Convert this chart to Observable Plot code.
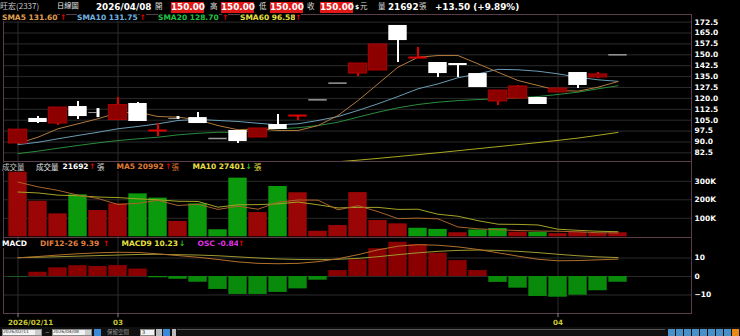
<!DOCTYPE html>
<html><head><meta charset="utf-8">
<script src="https://cdn.jsdelivr.net/npm/d3@7"></script>
<script src="https://cdn.jsdelivr.net/npm/@observablehq/plot@0.6"></script>
<style>
body{margin:0;background:#000;width:740px;height:336px;overflow:hidden;position:relative;font-family:"DejaVu Sans",sans-serif;}
.a{position:absolute;white-space:nowrap;line-height:1;}
.b{font-weight:bold;}
.cjk{font-family:"Noto Sans CJK TC",sans-serif;}
.box{position:absolute;background:#e01818;color:#fff;font-weight:bold;text-align:center;}
svg{position:absolute;left:0;overflow:visible;}
</style></head><body>
<script>
// ---------- DATA ----------
const open  = [89.0,106.2,102.7,114.4,110.4,105.1,116.5,97.9,106.3,106.8,92.4,97.9,93.1,102.0,108.2,119.0,130.5,137.1,139.2,170.2,148.1,144.7,144.0,137.1,117.9,119.9,120.6,124.1,137.8,134.4,150.0];
const high  = [98.5,107.5,113.7,117.9,113.0,120.6,117.2,102.7,107.5,110.3,92.4,97.9,99.3,108.9,108.2,119.0,130.5,144.0,157.1,170.2,155.0,144.7,144.0,137.1,125.4,128.9,120.6,126.8,137.8,137.8,150.0];
const low   = [89.0,102.7,101.3,105.5,106.8,105.1,104.1,93.8,105.5,102.7,92.4,89.0,93.1,98.6,104.8,119.0,130.5,135.1,139.2,144.7,148.1,134.4,134.4,127.5,115.1,119.9,115.8,124.1,126.8,133.7,150.0];
const close = [98.5,103.4,113.7,107.5,110.3,115.4,104.1,97.9,106.2,102.7,92.4,90.3,99.3,98.6,108.2,119.0,130.5,144.0,157.1,159.8,148.1,137.1,142.6,127.5,125.4,128.2,115.8,126.8,128.9,136.5,150.0];
const prevClose = 89.6;
const sma5  = [89.0,93.3,99.1,102.5,106.0,110.1,110.5,107.5,107.1,105.3,101.3,98.4,99.1,97.9,97.9,101.3,108.2,118.5,130.0,141.5,148.3,149.5,149.5,143.8,138.0,132.3,128.9,125.4,125.0,127.7,131.6];
const sma10 = [88.2,89.8,92.2,94.5,96.7,99.1,100.7,102.5,104.8,105.5,104.8,104.1,102.9,101.8,102.5,104.8,107.5,111.7,116.3,121.3,126.6,130.0,134.2,136.9,140.0,139.7,138.7,136.9,134.6,132.8,131.75];
const sma20 = [82.0,83.7,85.7,87.6,89.4,91.0,92.2,93.3,94.9,96.0,96.7,96.7,98.4,99.1,99.8,101.3,103.6,107.1,110.5,113.5,115.8,117.4,118.5,119.2,119.7,120.4,121.3,122.7,124.3,126.6,128.7];
const sma60 = [null,null,null,null,null,null,null,null,null,null,null,null,null,null,null,null,76.4,77.5,78.7,80.0,81.3,82.6,84.0,85.4,86.8,88.2,89.6,91.1,92.7,94.6,96.58];
const volume = [349,192,124,227,142,178,232,209,83,178,38,317,131,272,238,30,61,239,88,70,46,40,22,37,45,25,24,17,25,18,21.692]; // K
const volMA5  = [296,270,251,225,207,175,181,197,169,176,148,165,149,187,199,198,146,168,136,98,101,97,53,43,38,34,31,30,27,22,20.992];
const volMA10 = [242,237,225,222,215,212,205,200,192,191,160,173,174,178,188,173,156,159,159,148,149,122,111,87,68,67,64,41,35,30,27.401];
const osc   = [-0.3,2.3,4.7,5.8,5.4,5.9,4.0,-0.7,-1.5,-3.1,-7.0,-9.7,-9.7,-8.6,-6.7,-2.0,3.2,9.0,15.0,18.5,17.3,12.6,8.6,3.2,-3.2,-6.3,-10.8,-11.2,-10.1,-7.7,-3.1];
const dif   = [10.1,10.8,11.6,12.3,12.8,13.1,13.0,12.2,11.3,10.4,9.2,7.9,7.1,6.9,7.1,8.0,9.6,11.8,14.4,16.4,17.2,16.9,16.0,14.6,12.8,11.0,9.3,8.5,8.6,9.0,9.39];
const macd9 = [10.2,10.4,10.7,11.0,11.3,11.6,11.9,12.0,11.8,11.6,11.2,10.6,10.0,9.5,9.2,9.1,9.3,9.8,10.7,11.8,12.8,13.6,14.1,14.3,14.1,13.6,12.9,12.0,11.2,10.6,10.23];
const xTicks = [0,5,27];
const xTickLabels = ["2026/02/11","03","04"];
const priceTicks = [82.5,90,97.5,105,112.5,120,127.5,135,142.5,150,157.5,165,172.5];
const volTicks = [100,200,300];
const volTickLabels = ["100K","200K","300K"];
const macdTicks = [-10,0,10];

// ---------- derived tables ----------
const N = close.length;
const idx = d3.range(N);
const candles = idx.map(i => ({i, o: open[i], h: high[i], l: low[i], c: close[i]}));
const upC = candles.filter(d => d.c > d.o);
const dnC = candles.filter(d => d.c < d.o && d.o - d.c >= 0.5);
const dnTiny = candles.filter(d => d.c < d.o && d.o - d.c < 0.5);
const flatRange = candles.filter(d => d.c === d.o && d.h > d.l);
const flatNone = candles.filter(d => d.c === d.o && d.h === d.l);
const vols = idx.map(i => ({i, v: volume[i], up: close[i] >= (i ? close[i-1] : prevClose)}));
const series = (arr) => idx.map(i => ({i, v: arr[i]}));

// ---------- layout / style ----------
const W = 740, ML = 3, MR = 49;
const xDomain = [-0.725, 33.675];
const HW = 0.46;
const RED = "#e00000", DRED = "#8c0000", GRN = "#0b9a0b", FRAME = "#5a3c4a", GRID = "#2c2c2c";
const baseStyle = {background: "transparent", color: "#fff", fontFamily: "DejaVu Sans, sans-serif", fontSize: "7.5px", fontWeight: "bold", overflow: "visible"};
const vgrid = Plot.gridX(xTicks, {stroke: GRID, strokeOpacity: 1});

function place(svg, top) { svg.style.top = top + "px"; document.body.appendChild(svg); }

// price panel
place(Plot.plot({
  width: W, height: 147, marginLeft: ML, marginRight: MR, marginTop: 0, marginBottom: 0,
  style: baseStyle,
  x: {domain: xDomain, axis: null, label: null},
  y: {domain: [76.57, 177.74], axis: null, label: null},
  marks: [
    Plot.gridY(priceTicks, {stroke: GRID, strokeOpacity: 1}),
    vgrid,
    Plot.axisY(priceTicks, {anchor: "right", label: null, tickSize: 0, tickPadding: 3, tickFormat: d => d.toFixed(1), fill: "#fff"}),
    Plot.line(series(sma60), {x: "i", y: "v", stroke: "#a8a820", strokeWidth: 1, clip: true}),
    Plot.line(series(sma20), {x: "i", y: "v", stroke: "#2a8c3c", strokeWidth: 1, clip: true}),
    Plot.line(series(sma10), {x: "i", y: "v", stroke: "#6a9cb4", strokeWidth: 1, clip: true}),
    Plot.line(series(sma5), {x: "i", y: "v", stroke: "#b07a3c", strokeWidth: 1, clip: true}),
    Plot.ruleX(upC, {x: "i", y1: "l", y2: "h", stroke: RED, strokeWidth: 2}),
    Plot.ruleX(dnC, {x: "i", y1: "l", y2: "h", stroke: "#fff", strokeWidth: 2}),
    Plot.ruleY(dnTiny, {y: "c", x1: d => d.i - HW, x2: d => d.i - 0.05, stroke: "#9a9a9a", strokeWidth: 1}),
    Plot.ruleX(dnTiny, {x: "i", y1: "l", y2: "h", stroke: "#fff", strokeWidth: 3}),
    Plot.ruleX(flatRange, {x: "i", y1: "l", y2: "h", stroke: RED, strokeWidth: 2}),
    Plot.rect(upC, {x1: d => d.i - HW, x2: d => d.i + HW, y1: "o", y2: "c", fill: DRED, stroke: "#b00000", strokeWidth: 1}),
    Plot.rect(dnC, {x1: d => d.i - HW, x2: d => d.i + HW, y1: "o", y2: "c", fill: "#fff"}),
    Plot.ruleY(flatRange, {y: "c", x1: d => d.i - HW, x2: d => d.i + HW, stroke: RED, strokeWidth: 2}),
    Plot.ruleY(flatNone, {y: "c", x1: d => d.i - HW, x2: d => d.i + HW, stroke: "#9a9a9a", strokeWidth: 1.5}),
    Plot.frame({stroke: FRAME})
  ]
}), 14);

// volume panel
place(Plot.plot({
  width: W, height: 76, marginLeft: ML, marginRight: MR, marginTop: 0, marginBottom: 0,
  style: baseStyle,
  x: {domain: xDomain, axis: null, label: null},
  y: {domain: [-3.8, 407], axis: null, label: null},
  marks: [
    Plot.gridY(volTicks, {stroke: GRID, strokeOpacity: 1}),
    vgrid,
    Plot.axisY(volTicks, {anchor: "right", label: null, tickSize: 0, tickPadding: 3, tickFormat: (d, k) => volTickLabels[k], fill: "#fff"}),
    Plot.rect(vols, {x1: d => d.i - HW, x2: d => d.i + HW, y1: 0, y2: "v", fill: d => d.up ? "#9a0606" : GRN}),
    Plot.line(series(volMA10), {x: "i", y: "v", stroke: "#a4a428", strokeWidth: 1}),
    Plot.line(series(volMA5), {x: "i", y: "v", stroke: "#a8642a", strokeWidth: 1}),
    Plot.frame({stroke: FRAME})
  ]
}), 161);

// MACD panel + date axis
place(Plot.plot({
  width: W, height: 92, marginLeft: ML, marginRight: MR, marginTop: 0, marginBottom: 16,
  style: baseStyle,
  x: {domain: xDomain, axis: null, label: null},
  y: {domain: [-20, 21.08], axis: null, label: null},
  marks: [
    Plot.gridY(macdTicks, {stroke: GRID, strokeOpacity: 1}),
    vgrid,
    Plot.axisY(macdTicks, {anchor: "right", label: null, tickSize: 0, tickPadding: 3, fill: "#fff"}),
    Plot.rect(series(osc), {x1: d => d.i - HW, x2: d => d.i + HW, y1: 0, y2: "v", fill: d => d.v >= 0 ? "#8a0000" : "#0a8a0a"}),
    Plot.line(series(macd9), {x: "i", y: "v", stroke: "#a09a30", strokeWidth: 1}),
    Plot.line(series(dif), {x: "i", y: "v", stroke: "#b0702c", strokeWidth: 1}),
    Plot.frame({stroke: FRAME}),
    Plot.ruleX(xTicks, {y1: -20, y2: -22.2, stroke: "#888"}),
    Plot.axisX(xTicks.slice(1), {anchor: "bottom", label: null, tickSize: 0, tickPadding: 6, tickFormat: (d, k) => xTickLabels[k + 1], fill: "#c8c830", fontSize: 7.2}),
    Plot.axisX(xTicks.slice(0, 1), {anchor: "bottom", label: null, tickSize: 0, tickPadding: 6, tickFormat: () => xTickLabels[0], fill: "#c8c830", textAnchor: "start", dx: -10, fontSize: 7.2})
  ]
}), 237);

// ---------- HTML text ----------
function txt(x, y, s, color, size, cls) {
  const e = document.createElement("div");
  e.className = "a " + (cls || "");
  e.style.left = x + "px"; e.style.top = y + "px";
  e.style.color = color; e.style.fontSize = size + "px";
  e.textContent = s;
  document.body.appendChild(e);
  return e;
}
function box(x, y, w, h, s) {
  const e = document.createElement("div");
  e.className = "box";
  Object.assign(e.style, {left: x + "px", top: y + "px", width: w + "px", height: h + "px", fontSize: "8.8px", lineHeight: h + "px"});
  e.textContent = s;
  document.body.appendChild(e);
}
// header
txt(0, 2, "旺宏(2337)", "#c8c8c8", 8, "cjk");
txt(57, 2, "日線圖", "#e8e8e8", 7.2, "cjk");
txt(96, 2.5, "2026/04/08", "#fff", 8.8, "b");
txt(155, 2, "開", "#ddd", 7.5, "cjk"); box(171, 2, 33, 11, "150.00");
txt(210, 2, "高", "#ddd", 7.5, "cjk"); box(221, 2, 33, 11, "150.00");
txt(259, 2, "低", "#ddd", 7.5, "cjk"); box(270, 2, 33, 11, "150.00");
txt(307, 2, "收", "#ddd", 7.5, "cjk"); box(320, 2, 33, 11, "150.00");
txt(355, 4, "$", "#fff", 6, "b");
txt(360, 2, "元", "#ddd", 7.5, "cjk");
txt(378, 2, "量", "#ddd", 7.5, "cjk");
txt(388, 2.5, "21692", "#fff", 8.8, "b");
txt(419, 2, "張", "#ddd", 7.5, "cjk");
txt(435, 2.5, "+13.50 (+9.89%)", "#fff", 8.8, "b");
// legends (black background to cover frame)
function leg(y, items) {
  for (const [x, s, c, cls, size] of items) {
    const e = txt(x, y, s, c, size || 7.5, cls || "b");
    e.style.background = "#000";
  }
}
leg(13.5, [[2,"SMA5 131.60","#e0a050"],[60,"↑",RED],[77,"SMA10 131.75","#70b4e0"],[139.5,"↑",RED],[158,"SMA20 128.70","#22c444"],[222,"↑",RED],[240,"SMA60 96.58","#e8e040"],[295,"↑",RED]]);
leg(163, [[2,"成交量","#c8c8c8","cjk",7.5],[36,"成交量","#e8e8e8","cjk",7.5],[62.5,"21692","#fff"],[89,"↑",RED],[97,"張","#ddd","cjk",7.5],[116.5,"MA5 20992","#e07a30"],[165,"↑",RED],[171.5,"張","#e07a30","cjk",7.5],[192.5,"MA10 27401","#e8e040"],[245.5,"↓","#20c020"],[254,"張","#e8e040","cjk",7.5]]);
leg(240, [[2,"MACD","#fff"],[40,"DIF12-26 9.39","#e08040"],[103,"↑",RED],[121.5,"MACD9 10.23","#e8e040"],[179,"↓","#20c020"],[197.5,"OSC -0.84","#e030e0"],[238,"↑",RED]]);

// ---------- bottom toolbar ----------
function rectDiv(x, y, w, h, bg, border) {
  const e = document.createElement("div");
  Object.assign(e.style, {position: "absolute", left: x + "px", top: y + "px", width: w + "px", height: h + "px", background: bg, boxSizing: "border-box", border: border || "none"});
  document.body.appendChild(e); return e;
}
rectDiv(0, 327, 740, 9, "#101010");
rectDiv(2, 328.5, 40, 7, "#f2f2f2", "1px solid #888"); txt(3, 330, "2026/02/11", "#333", 4.5);
rectDiv(35, 329.5, 6, 5, "#ccc");
txt(45, 329.5, "~", "#bbb", 5.5);
rectDiv(52, 328.5, 40, 7, "#f2f2f2", "1px solid #888"); txt(53, 330, "2026/04/08", "#333", 4.5);
rectDiv(85, 329.5, 6, 5, "#ccc");
rectDiv(94, 328.5, 7, 7, "#3a8ad8");
txt(107, 330, "保留空間", "#9a9a9a", 5.5, "cjk");
rectDiv(140, 328.5, 15, 7, "#f2f2f2", "1px solid #888"); txt(142, 330, "3", "#333", 5);
rectDiv(156, 328.5, 6, 7, "#bbb");
rectDiv(163, 328.5, 7, 7, "#3a8ad8");
rectDiv(172, 328.5, 4, 7, "#bbb");
rectDiv(177, 328.5, 488, 1, "#555");
for (let k = 0; k < 9; k++) rectDiv(668 + k * 8, 328.5, 7, 7, k === 8 ? "#e88a1a" : "#4a90c8");
</script>
</body></html>
